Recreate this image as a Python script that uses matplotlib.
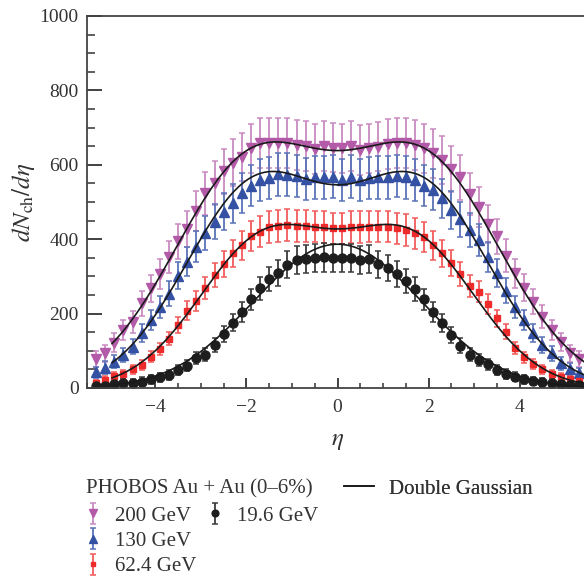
import numpy as np
import matplotlib
matplotlib.use("Agg")
import matplotlib.pyplot as plt
from matplotlib.lines import Line2D

plt.rcParams['font.family'] = ['Liberation Serif', 'DejaVu Serif']
plt.rcParams['mathtext.fontset'] = 'stix'

# pseudorapidity bin centres (PHOBOS, 0.2 wide bins)
eta = np.round(np.arange(-5.3, 5.31, 0.2), 1)

dn_200 = [77, 93, 122, 156, 178, 228, 268, 306, 351, 394, 427, 476, 523, 552, 582, 606, 622, 644,
          658, 659, 659, 658, 653, 651, 642, 650, 646, 644, 651, 640, 644, 649, 655, 658, 659, 653,
          644, 631, 613, 588, 566, 522, 486, 441, 408, 356, 308, 270, 232, 192, 156, 124, 93, 77]
dn_130 = [42, 55, 71, 89, 111, 147, 183, 219, 254, 302, 340, 380, 416, 447, 474, 496, 525, 544,
          559, 564, 575, 573, 570, 561, 566, 566, 568, 559, 568, 559, 564, 566, 566, 570, 566, 559,
          544, 533, 510, 479, 453, 425, 398, 352, 309, 262, 219, 183, 147, 116, 93, 66, 50, 39]
dn_62 = [13, 22, 32, 37, 50, 62, 84, 104, 133, 169, 208, 234, 268, 304, 333, 362, 384, 409,
         420, 432, 435, 438, 435, 435, 434, 432, 429, 429, 432, 432, 434, 434, 434, 429, 425, 416,
         406, 384, 362, 335, 306, 274, 259, 226, 187, 151, 107, 82, 64, 50, 38, 29, 23, 20]
dn_19 = [6, 6, 10, 13, 14, 17, 23, 29, 35, 48, 60, 80, 90, 116, 145, 176, 205, 238,
         268, 293, 310, 331, 344, 346, 350, 351, 349, 349, 349, 344, 346, 332, 323, 306, 288, 266,
         238, 205, 174, 142, 114, 90, 75, 64, 48, 38, 30, 24, 19, 15, 13, 10, 9, 7]

# systematic uncertainty: (relative part, absolute part)
err_200 = (0.08, 15)
err_130 = (0.08, 12)
err_62 = (0.08, 8)
err_19 = (0.08, 10)

# double Gaussian fit parameters: amplitude, centre offset, width
fit_200 = (596, 1.9, 1.7)
fit_130 = (536, 1.8, 1.55)
fit_62 = (393, 1.6, 1.45)
fit_19 = (219, 0.8, 1.6)

labels = ['200 GeV', '130 GeV', '62.4 GeV', '19.6 GeV']
colors = ['#b35aa9', '#3451a4', '#ee2b2b', '#1e1e1e']
ecolors = ['#c98ac2', '#5a73b8', '#f25a5a', '#3a3a3a']
markers = ['v', '^', 's', 'o']
msizes = [6.8, 6.8, 4.8, 6.5]


def double_gauss(x, p):
    A, a, s = p
    return A * (np.exp(-(x - a) ** 2 / (2 * s ** 2)) + np.exp(-(x + a) ** 2 / (2 * s ** 2)))


fig = plt.figure(figsize=(5.84, 5.78), dpi=100)
ax = fig.add_axes([87 / 584, 1 - 388 / 578, 501 / 584, 372 / 578])

series = [dn_200, dn_130, dn_62, dn_19]
errs = [err_200, err_130, err_62, err_19]
fits = [fit_200, fit_130, fit_62, fit_19]
xs = np.linspace(-4.95, 5.6, 300)
handles = []
for y, e, p, lab, c, ec, m, ms in zip(series, errs, fits, labels, colors, ecolors, markers, msizes):
    y = np.array(y, dtype=float)
    yerr = e[0] * y + e[1]
    h = ax.errorbar(eta, y, yerr=yerr, fmt=m, color=c, ecolor=ec, ms=ms, mec=c,
                    elinewidth=1.3, capsize=2.0, capthick=1.1, label=lab, zorder=2)
    handles.append(h)
    ax.plot(xs, double_gauss(xs, p), color='#1a1a1a', lw=1.2, zorder=3)

ax.set_xlim(-5.5, 5.5)
ax.set_ylim(0, 1000)
ax.set_xticks([-4, -2, 0, 2, 4])
ax.set_xticklabels(['\u22124', '\u22122', '0', '2', '4'])
ax.set_xticks(np.arange(-5.5, 5.6, 0.5), minor=True)
ax.set_yticks(np.arange(0, 1001, 200))
ax.set_yticks(np.arange(0, 1001, 50), minor=True)
ax.tick_params(axis='both', which='both', direction='in', labelsize=14, colors='#333333',
               labelcolor='#333333')
ax.tick_params(axis='y', which='major', length=11, width=1.3, pad=6)
ax.tick_params(axis='y', which='minor', length=6, width=1.1)
ax.tick_params(axis='x', which='major', length=7, width=1.3, pad=8)
ax.tick_params(axis='x', which='minor', length=3.5, width=1.1)
for sp in ax.spines.values():
    sp.set_linewidth(1.3)
    sp.set_color('#444444')

ax.set_xlabel(r'$\eta$', fontsize=18, color='#333333', labelpad=10)
ax.set_ylabel(r'$dN_{\rm ch}/d\eta$', fontsize=18, color='#333333', labelpad=2)

# legend
fig.text(86 / 584, 1 - 489 / 578, 'PHOBOS Au + Au (0\u20136%)', fontsize=15, color='#333333',
         va='center', ha='left')
leg1 = fig.legend([Line2D([], [], color='#1a1a1a', lw=1.2)], ['Double Gaussian'],
                  loc='center left', bbox_to_anchor=(344 / 584, 1 - 489 / 578), frameon=False,
                  fontsize=15, handlelength=1.45, handletextpad=0.7, borderpad=0, borderaxespad=0,
                  labelcolor='#333333')
blank = Line2D([], [], linestyle='none')
fig.legend([handles[0], handles[1], handles[2], handles[3], blank, blank],
           ['200 GeV', '130 GeV', '62.4 GeV', '19.6 GeV', '', ''], ncol=2,
           loc='upper left', bbox_to_anchor=(84 / 584, 1 - 506 / 578), frameon=False,
           fontsize=15, handlelength=0.9, handletextpad=0.6, columnspacing=0.45,
           labelspacing=0.28, markerscale=0.75, borderpad=0, borderaxespad=0,
           labelcolor='#333333')
fig.add_artist(leg1)

fig.savefig('out.png', dpi=100)
